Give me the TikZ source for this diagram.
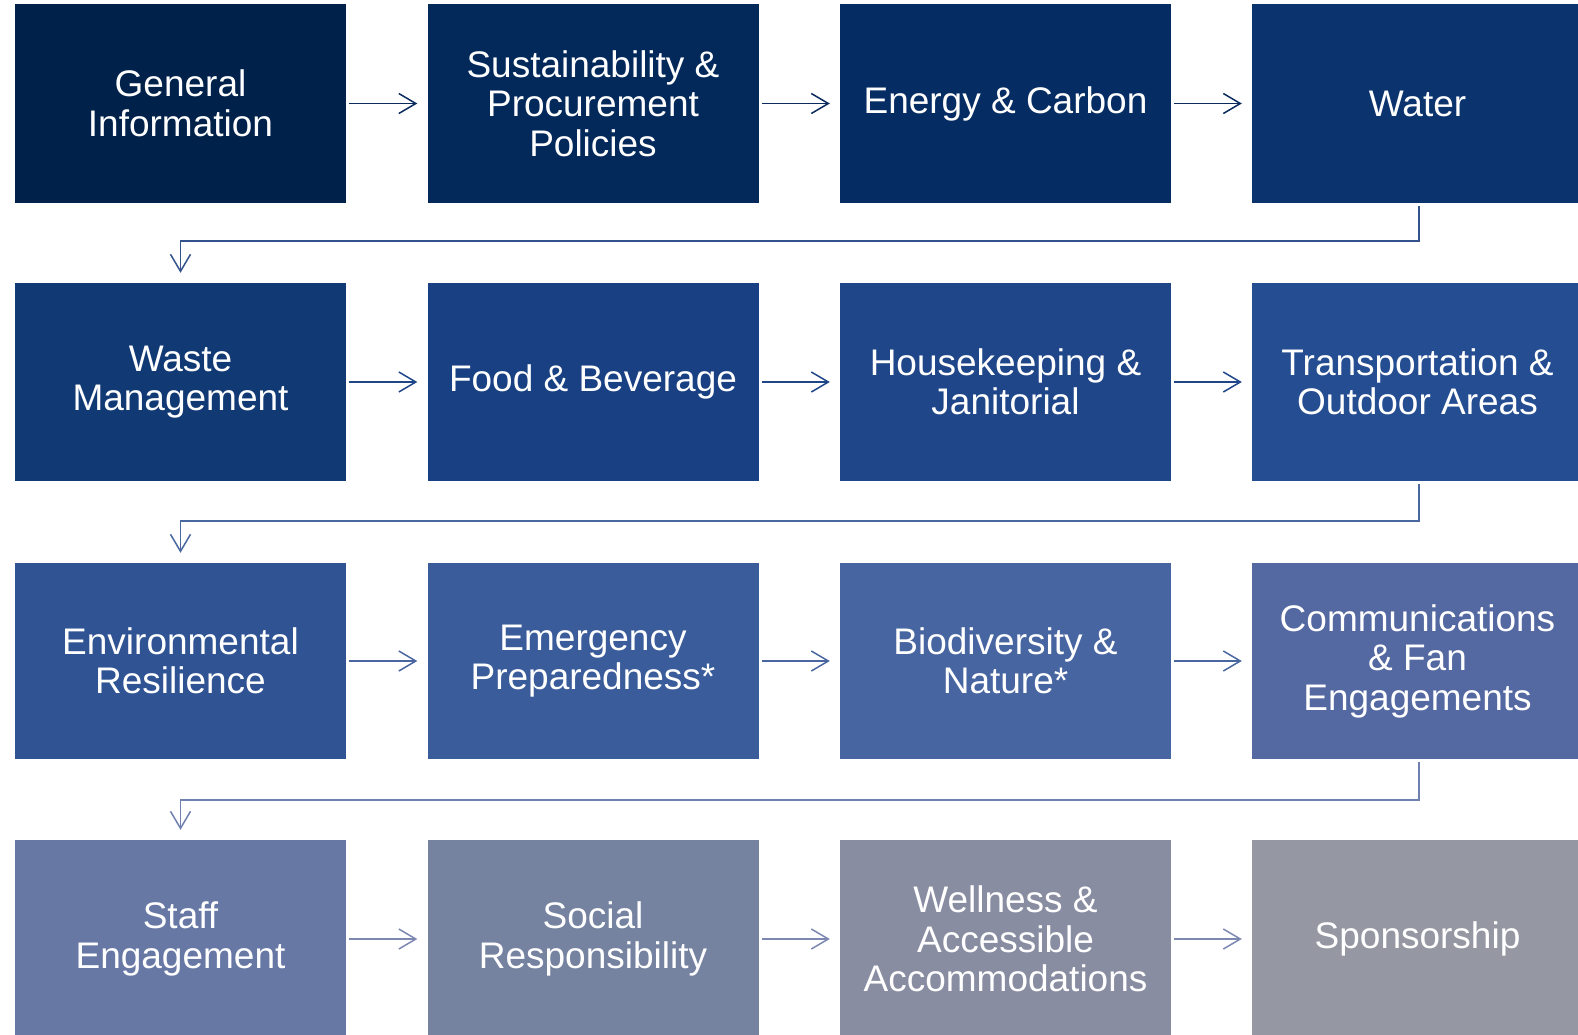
\documentclass[tikz,border=0pt]{standalone}
\usepackage{fontspec}
\setmainfont{Liberation Sans}
\usetikzlibrary{arrows.meta}
\definecolor{c1}{HTML}{00214A}
\definecolor{c2}{HTML}{03285A}
\definecolor{c3}{HTML}{062D63}
\definecolor{c4}{HTML}{0B336D}
\definecolor{c5}{HTML}{113A75}
\definecolor{c6}{HTML}{184082}
\definecolor{c7}{HTML}{1F4689}
\definecolor{c8}{HTML}{254D91}
\definecolor{c9}{HTML}{2F5393}
\definecolor{c10}{HTML}{3A5C9B}
\definecolor{c11}{HTML}{4765A0}
\definecolor{c12}{HTML}{5468A1}
\definecolor{c13}{HTML}{6778A5}
\definecolor{c14}{HTML}{7582A0}
\definecolor{c15}{HTML}{888DA2}
\definecolor{c16}{HTML}{9597A2}
\definecolor{a1}{HTML}{0B2B5E}
\definecolor{r1}{HTML}{34538C}
\definecolor{a2}{HTML}{1F4689}
\definecolor{r2}{HTML}{4A68A0}
\definecolor{a3}{HTML}{4A66A0}
\definecolor{r3}{HTML}{7080B0}
\definecolor{a4}{HTML}{7C88B0}
\tikzset{
  box/.style={rectangle, inner sep=0pt, minimum width=331pt, text=white, align=center,
    font=\fontsize{37pt}{39.5pt}\selectfont},
  arr/.style={line width=1.5pt, -{Straight Barb[length=17pt,width=20pt,line width=1.5pt]}},
}
\begin{document}
\begin{tikzpicture}[x=1pt,y=-1pt]
\useasboundingbox (0,0) rectangle (1578,1034);
% row 1
\node[box, fill=c1, minimum height=199pt] (n1) at (180.5,103.5) {General\\Information};
\node[box, fill=c2, minimum height=199pt] (n2) at (593,103.5) {Sustainability \&\\Procurement\\Policies};
\node[box, fill=c3, minimum height=199pt] (n3) at (1005.5,103.5) {Energy \& Carbon};
\node[box, fill=c4, minimum height=199pt] (n4) at (1417.5,103.5) {Water};
% row 2
\node[box, fill=c5, minimum height=198pt] (n5) at (180.5,382) {Waste\\Management};
\node[box, fill=c6, minimum height=198pt] (n6) at (593,382) {Food \& Beverage};
\node[box, fill=c7, minimum height=198pt] (n7) at (1005.5,382) {Housekeeping \&\\Janitorial};
\node[box, fill=c8, minimum height=198pt] (n8) at (1417.5,382) {Transportation \&\\Outdoor Areas};
% row 3
\node[box, fill=c9, minimum height=196pt] (n9) at (180.5,661) {Environmental\\Resilience};
\node[box, fill=c10, minimum height=196pt] (n10) at (593,661) {Emergency\\Preparedness*};
\node[box, fill=c11, minimum height=196pt] (n11) at (1005.5,661) {Biodiversity \&\\Nature*};
\node[box, fill=c12, minimum height=196pt] (n12) at (1417.5,661) {Communications\\\& Fan\\Engagements};
% row 4
\node[box, fill=c13, minimum height=198pt] (n13) at (180.5,939) {Staff\\Engagement};
\node[box, fill=c14, minimum height=198pt] (n14) at (593,939) {Social\\Responsibility};
\node[box, fill=c15, minimum height=198pt] (n15) at (1005.5,939) {Wellness \&\\Accessible\\Accommodations};
\node[box, fill=c16, minimum height=198pt] (n16) at (1417.5,939) {Sponsorship};
% horizontal arrows
\draw[arr, a1] ([xshift=3pt]n1.east) -- ([xshift=-10pt]n2.west);
\draw[arr, a1] ([xshift=3pt]n2.east) -- ([xshift=-10pt]n3.west);
\draw[arr, a1] ([xshift=3pt]n3.east) -- ([xshift=-10pt]n4.west);
\draw[arr, a2] ([xshift=3pt]n5.east) -- ([xshift=-10pt]n6.west);
\draw[arr, a2] ([xshift=3pt]n6.east) -- ([xshift=-10pt]n7.west);
\draw[arr, a2] ([xshift=3pt]n7.east) -- ([xshift=-10pt]n8.west);
\draw[arr, a3] ([xshift=3pt]n9.east) -- ([xshift=-10pt]n10.west);
\draw[arr, a3] ([xshift=3pt]n10.east) -- ([xshift=-10pt]n11.west);
\draw[arr, a3] ([xshift=3pt]n11.east) -- ([xshift=-10pt]n12.west);
\draw[arr, a4] ([xshift=3pt]n13.east) -- ([xshift=-10pt]n14.west);
\draw[arr, a4] ([xshift=3pt]n14.east) -- ([xshift=-10pt]n15.west);
\draw[arr, a4] ([xshift=3pt]n15.east) -- ([xshift=-10pt]n16.west);
% return arrows
\draw[arr, r1] ([xshift=1.5pt,yshift=-3pt]n4.south) -- ++(0,35) -| ([yshift=10pt]n5.north);
\draw[arr, r2] ([xshift=1.5pt,yshift=-3pt]n8.south) -- ++(0,37) -| ([yshift=10pt]n9.north);
\draw[arr, r3] ([xshift=1.5pt,yshift=-3pt]n12.south) -- ++(0,38) -| ([yshift=10pt]n13.north);
\end{tikzpicture}
\end{document}
